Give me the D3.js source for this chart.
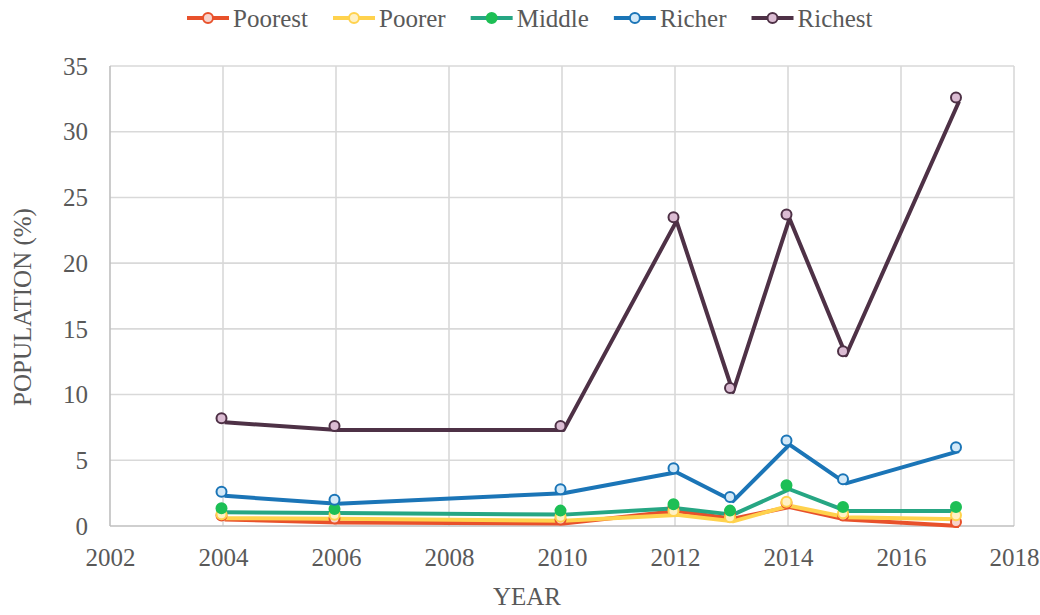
<!DOCTYPE html>
<html>
<head>
<meta charset="utf-8">
<script src="https://cdn.jsdelivr.net/npm/d3@7"></script>
<style>
    body { margin: 0; background: #fff; }
    svg { display: block; }
</style>
</head>
<body>
<svg id="chart" width="1040" height="615"></svg>
<script>
const years = [2004, 2006, 2010, 2012, 2013, 2014, 2015, 2017];
const seriesNames = ["Poorest", "Poorer", "Middle", "Richer", "Richest"];
const poorest = [0.8, 0.58, 0.5, 1.45, 0.85, 1.75, 0.8, 0.3];
const poorer = [0.9, 0.85, 0.7, 1.15, 0.66, 1.85, 0.97, 0.82];
const middle = [1.35, 1.3, 1.17, 1.65, 1.17, 3.1, 1.45, 1.45];
const richer = [2.6, 2.0, 2.8, 4.4, 2.2, 6.5, 3.55, 6.0];
const richest = [8.2, 7.6, 7.6, 23.5, 10.5, 23.7, 13.3, 32.6];
const xTicks = [2002, 2004, 2006, 2008, 2010, 2012, 2014, 2016, 2018];
const yTicks = [0, 5, 10, 15, 20, 25, 30, 35];

const seriesValues = [poorest, poorer, middle, richer, richest];
const lineColors = ["#e8512b", "#ffd24d", "#26a683", "#1b75b7", "#4e3146"];
const markerFill = ["#f7d3cc", "#fff1c4", "#1dbf55", "#d3e9f8", "#dbbcd3"];
const markerStroke = ["#e8512b", "#ffd24d", "#1dbf55", "#1b75b7", "#4e3146"];

const font_family = "'Liberation Serif', 'Times New Roman', serif";
const font_color = "#595959";
const font_size = 25;

const margin = { top: 66, right: 26, bottom: 89, left: 110 };
const width = 1040, height = 615;
const innerWidth = width - margin.left - margin.right;
const innerHeight = height - margin.top - margin.bottom;

const series = seriesNames.map((name, i) => ({
    name,
    color: lineColors[i],
    fill: markerFill[i],
    stroke: markerStroke[i],
    values: years.map((yr, j) => ({ year: yr, value: seriesValues[i][j] }))
}));

const svg = d3.select("#chart");
const g = svg.append("g").attr("transform", `translate(${margin.left},${margin.top})`);

const x = d3.scaleLinear().domain([2002, 2018]).range([0, innerWidth]);
const y = d3.scaleLinear().domain([0, 35]).range([innerHeight, 0]);

// Gridlines
g.append("g")
    .attr("class", "grid-y")
    .selectAll("line")
    .data(yTicks.slice(1))
    .enter()
    .append("line")
    .attr("x1", 0).attr("x2", innerWidth)
    .attr("y1", d => y(d)).attr("y2", d => y(d))
    .attr("stroke", "#d9d9d9").attr("stroke-width", 1.6);

g.append("g")
    .attr("class", "grid-x")
    .selectAll("line")
    .data(xTicks.slice(1))
    .enter()
    .append("line")
    .attr("x1", d => x(d)).attr("x2", d => x(d))
    .attr("y1", 0).attr("y2", innerHeight)
    .attr("stroke", "#d9d9d9").attr("stroke-width", 1.6);

// Axis lines
g.append("line")
    .attr("x1", 0).attr("x2", 0).attr("y1", 0).attr("y2", innerHeight)
    .attr("stroke", "#bfbfbf").attr("stroke-width", 1.6);
g.append("line")
    .attr("x1", 0).attr("x2", innerWidth).attr("y1", innerHeight).attr("y2", innerHeight)
    .attr("stroke", "#bfbfbf").attr("stroke-width", 1.6);

// Y axis tick labels
g.append("g")
    .call(d3.axisLeft(y).tickValues(yTicks).tickSize(0).tickPadding(22))
    .attr("font-family", font_family)
    .attr("font-size", font_size)
    .call(s => s.select(".domain").remove())
    .selectAll("text")
    .attr("fill", font_color)
    .attr("dy", "0.33em");

// X axis tick labels
g.append("g")
    .attr("transform", `translate(0,${innerHeight})`)
    .call(d3.axisBottom(x).tickValues(xTicks).tickSize(0).tickPadding(22).tickFormat(d3.format("d")))
    .attr("font-family", font_family)
    .attr("font-size", font_size)
    .call(s => s.select(".domain").remove())
    .selectAll("text")
    .attr("fill", font_color);

// Lines (drawn slightly offset from the markers as in the original)
const line = d3.line().x(d => x(d.year)).y(d => y(d.value));

const linesG = g.append("g").attr("transform", "translate(1.5,4)");
linesG.selectAll("path")
    .data(series)
    .enter()
    .append("path")
    .attr("d", d => line(d.values))
    .attr("fill", "none")
    .attr("stroke", d => d.color)
    .attr("stroke-width", 4)
    .attr("stroke-linejoin", "round");

// Markers
const markersG = g.append("g").attr("transform", "translate(-1.5,0)");
series.forEach(s => {
    markersG.append("g")
        .selectAll("circle")
        .data(s.values)
        .enter()
        .append("circle")
        .attr("cx", d => x(d.year))
        .attr("cy", d => y(d.value))
        .attr("r", 5)
        .attr("fill", s.fill)
        .attr("stroke", s.stroke)
        .attr("stroke-width", 2);
});

// Y Axis Label
svg.append("text")
    .attr("transform", "translate(31,307) rotate(-90)")
    .attr("text-anchor", "middle")
    .attr("fill", font_color)
    .attr("font-family", font_family)
    .attr("font-size", font_size)
    .text("POPULATION (%)");

// X Axis Label
svg.append("text")
    .attr("x", 527)
    .attr("y", 605)
    .attr("text-anchor", "middle")
    .attr("fill", font_color)
    .attr("font-family", font_family)
    .attr("font-size", font_size)
    .text("YEAR");

// Legend
const legend = svg.append("g").attr("transform", "translate(187,18)");
let offset = 0;
series.forEach(s => {
    const item = legend.append("g").attr("transform", `translate(${offset},0)`);
    item.append("line")
        .attr("x1", 0).attr("x2", 42).attr("y1", 0).attr("y2", 0)
        .attr("stroke", s.color).attr("stroke-width", 4);
    item.append("circle")
        .attr("cx", 21).attr("cy", 0).attr("r", 5)
        .attr("fill", s.fill).attr("stroke", s.stroke).attr("stroke-width", 2);
    const t = item.append("text")
        .attr("x", 46)
        .attr("y", 9)
        .attr("fill", font_color)
        .attr("font-family", font_family)
        .attr("font-size", font_size)
        .text(s.name);
    offset += 46 + t.node().getComputedTextLength() + 25;
});
</script>
</body>
</html>
